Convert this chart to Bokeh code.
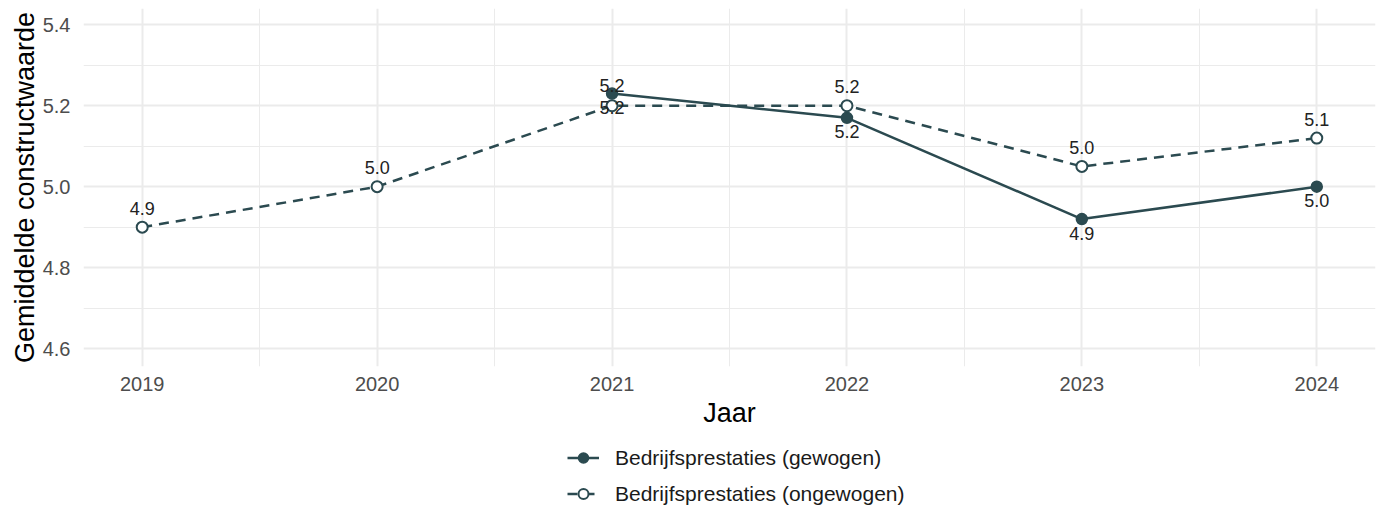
from bokeh.plotting import figure
from bokeh.layouts import column
from bokeh.models import (Range1d, FixedTicker, PrintfTickFormatter, Legend, LegendItem,
                          ColumnDataSource)
from bokeh.core.properties import value
from bokeh.embed import file_html
from bokeh.resources import INLINE

# ---- data ----
years = [2019, 2020, 2021, 2022, 2023, 2024]
gewogen_years = [2021, 2022, 2023, 2024]
gewogen = [5.23, 5.17, 4.92, 5.00]
ongewogen = [4.90, 5.00, 5.20, 5.20, 5.05, 5.12]
series_names = ["Bedrijfsprestaties (gewogen)", "Bedrijfsprestaties (ongewogen)"]
y_ticks = [4.6, 4.8, 5.0, 5.2, 5.4]
x_title = "Jaar"
y_title = "Gemiddelde constructwaarde"

# ---- style ----
COL = "#2B4A50"
FONT = "Liberation Sans"
GRID = "#EBEBEB"
W = 1381

p = figure(width=W, height=440, output_backend="svg", toolbar_location=None,
           x_range=Range1d(2018.75, 2024.25), y_range=Range1d(4.556, 5.44),
           min_border_left=83, min_border_right=6, min_border_top=8, min_border_bottom=74)
p.outline_line_color = None
p.background_fill_color = "white"

# tickers / grid
xt = FixedTicker(ticks=years, minor_ticks=[y + 0.5 for y in years[:-1]])
yt = FixedTicker(ticks=y_ticks, minor_ticks=[round(t + 0.1, 2) for t in y_ticks[:-1]])
p.xaxis.ticker = xt
p.yaxis.ticker = yt
p.xgrid.ticker = xt
p.ygrid.ticker = yt
for g in (p.xgrid, p.ygrid):
    g.grid_line_color = GRID
    g.grid_line_width = 2
    g.minor_grid_line_color = GRID
    g.minor_grid_line_width = 1
p.yaxis.formatter = PrintfTickFormatter(format="%.1f")

for ax in (p.xaxis, p.yaxis):
    ax.axis_line_color = None
    ax.major_tick_line_color = None
    ax.minor_tick_line_color = None
    ax.major_label_text_font = FONT
    ax.major_label_text_font_size = "20px"
    ax.major_label_text_color = "#4D4D4D"
    ax.axis_label_text_font = FONT
    ax.axis_label_text_font_size = "27px"
    ax.axis_label_text_font_style = "normal"
    ax.axis_label_text_color = "black"
p.xaxis.axis_label = x_title
p.yaxis.axis_label = y_title
p.xaxis.major_label_standoff = 4
p.xaxis.axis_label_standoff = 4
p.yaxis.major_label_standoff = 7
p.yaxis.axis_label_standoff = 0

# lines & markers
src_g = ColumnDataSource(dict(x=gewogen_years, y=gewogen,
                              lab=[f"{v:.1f}" for v in gewogen]))
src_o = ColumnDataSource(dict(x=years, y=ongewogen,
                              lab=[f"{v:.1f}" for v in ongewogen]))

line_g = dict(line_color=COL, line_width=2.5)
line_o = dict(line_color=COL, line_width=2.5, line_dash="10 7")
mark_g = dict(marker="circle", size=11, fill_color=COL, line_color=COL, line_width=1.5)
mark_o = dict(marker="circle", size=11, fill_color="white", line_color=COL, line_width=2)

p.line("x", "y", source=src_g, **line_g)
p.line("x", "y", source=src_o, **line_o)
p.scatter("x", "y", source=src_g, **mark_g)
p.scatter("x", "y", source=src_o, **mark_o)

# value labels (pixel offsets: above / below the point)
g_dy = [-8, 14, 14, 14]
o_dy = [-19, -19, 2, -19, -19, -19]
src_g.data["dy"] = g_dy
src_o.data["dy"] = o_dy
for src in (src_g, src_o):
    p.text("x", "y", text="lab", source=src, y_offset="dy",
           text_align="center", text_baseline="middle",
           text_font=value(FONT), text_font_size="18px", text_color="#222222")

# ---- legend strip below the chart ----
lg = figure(width=W, height=509 - 440, output_backend="svg", toolbar_location=None,
            x_axis_type=None, y_axis_type=None, x_range=Range1d(0, 1), y_range=Range1d(0, 1),
            min_border_left=83, min_border_right=6, min_border_top=0, min_border_bottom=0)
lg.outline_line_color = None
lg.grid.visible = False
nan = float("nan")
blank = lambda: ColumnDataSource(dict(x=[nan], y=[nan]))  # legend swatches only
rl_g = lg.line("x", "y", source=blank(), **line_g)
rm_g = lg.scatter("x", "y", source=blank(), **mark_g)
rl_o = lg.line("x", "y", source=blank(), **line_o)
rm_o = lg.scatter("x", "y", source=blank(), **mark_o)

legend = Legend(items=[LegendItem(label=series_names[0], renderers=[rl_g, rm_g]),
                       LegendItem(label=series_names[1], renderers=[rl_o, rm_o])],
                orientation="vertical", location=(484, 3),
                label_text_font=FONT, label_text_font_size="21px",
                label_text_color="#1A1A1A",
                glyph_width=32, glyph_height=25, label_height=25,
                label_standoff=16, spacing=11, padding=0,
                margin=0, border_line_color=None, background_fill_alpha=0)
lg.add_layout(legend, "center")

layout = column(p, lg, spacing=0)
open("out.html", "w").write(file_html(layout, INLINE))
